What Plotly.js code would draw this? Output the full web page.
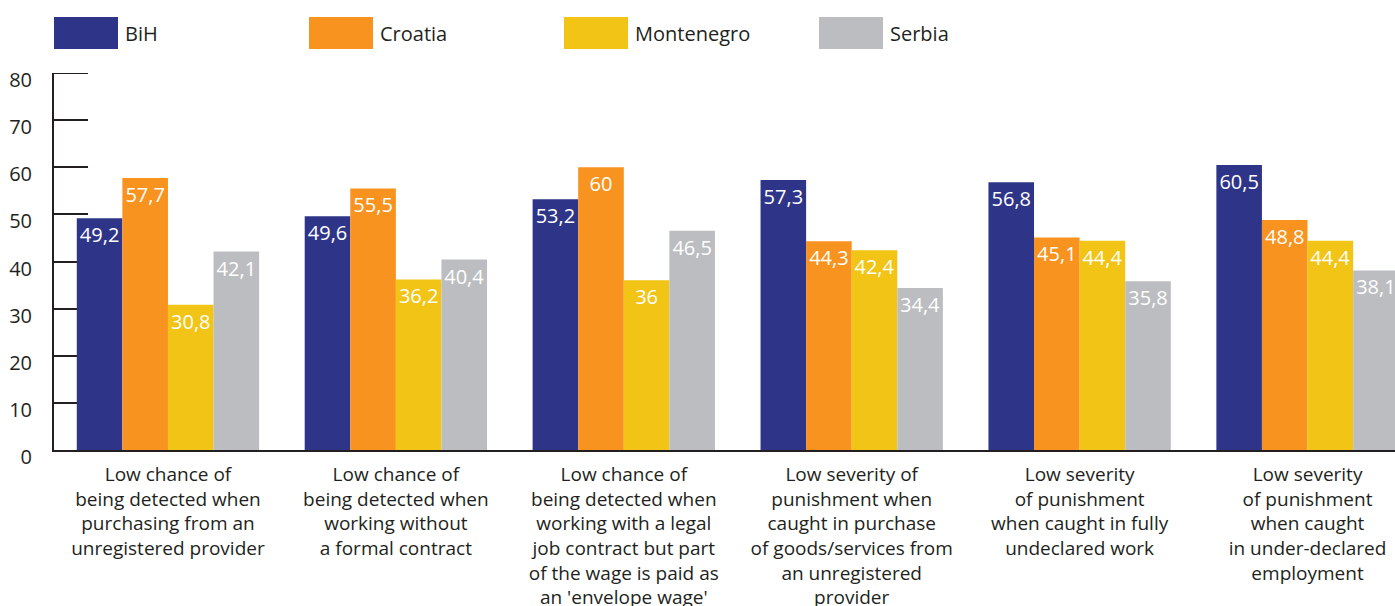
<!DOCTYPE html>
<html>
<head>
<meta charset="utf-8">
<script src="https://cdn.plot.ly/plotly-3.0.1.min.js"></script>
<style>html,body{margin:0;padding:0;overflow:hidden;background:#fff}#chart{width:1395px;height:606px}</style>
</head>
<body>
<div id="chart"></div>
<script>
const categories = [
  "Low chance of<br>being detected when<br>purchasing from an<br>unregistered provider",
  "Low chance of<br>being detected when<br>working without<br>a formal contract",
  "Low chance of<br>being detected when<br>working with a legal<br>job contract but part<br>of the wage is paid as<br>an 'envelope wage'",
  "Low severity of<br>punishment when<br>caught in purchase<br>of goods/services from<br>an unregistered<br>provider",
  "Low severity<br>of punishment<br>when caught in fully<br>undeclared work",
  "Low severity<br>of punishment<br>when caught<br>in under-declared<br>employment"
];
const seriesNames = ["BiH", "Croatia", "Montenegro", "Serbia"];
const bih = [49.2, 49.6, 53.2, 57.3, 56.8, 60.5];
const croatia = [57.7, 55.5, 60, 44.3, 45.1, 48.8];
const montenegro = [30.8, 36.2, 36, 42.4, 44.4, 44.4];
const serbia = [42.1, 40.4, 46.5, 34.4, 35.8, 38.1];
const colors = ["#2e3589", "#f7931e", "#f1c416", "#bcbdc0"];
const yTicks = [0, 10, 20, 30, 40, 50, 60, 70, 80];

const seriesValues = [bih, croatia, montenegro, serbia];
const xIdx = categories.map((c, i) => i);
const FONT = "'Open Sans', sans-serif";
const TXT = "#231f20";

const traces = seriesValues.map((vals, s) => ({
  type: "bar",
  name: seriesNames[s],
  x: xIdx,
  y: vals,
  marker: {color: colors[s]},
  text: vals.map(v => String(v).replace(".", ",")),
  textposition: "inside",
  insidetextanchor: "end",
  textangle: 0,
  constraintext: "none",
  textfont: {color: "#ffffff", size: 20, family: FONT},
  hoverinfo: "none",
  showlegend: false
}));

// legend built from series names/colors
const plotL = 54, plotR = 1395, plotT = 73, plotB = 450;
const px2x = p => (p - plotL) / (plotR - plotL);
const px2y = p => (plotB - p) / (plotB - plotT);
const shapes = [];
const annotations = [];
seriesNames.forEach((n, i) => {
  const x0 = 54 + 255 * i;
  shapes.push({type: "rect", xref: "paper", yref: "paper",
    x0: px2x(x0), x1: px2x(x0 + 64), y0: px2y(49), y1: px2y(17),
    fillcolor: colors[i], line: {width: 0}, layer: "above"});
  annotations.push({xref: "paper", yref: "paper", x: px2x(x0 + 69), y: px2y(33),
    xanchor: "left", yanchor: "middle", showarrow: false, text: n,
    font: {family: FONT, size: 20, color: TXT}});
});
// top tick mark (plotly omits the inside tick at the axis end)
const topTick = yTicks[yTicks.length - 1];
shapes.push({type: "line", xref: "paper", yref: "y",
  x0: 0, x1: px2x(plotL + 34), y0: topTick, y1: topTick,
  line: {color: TXT, width: 2}, layer: "below"});

const layout = {
  width: 1395, height: 606,
  margin: {l: plotL, r: 0, t: plotT, b: 606 - plotB, pad: 0},
  paper_bgcolor: "#ffffff", plot_bgcolor: "#ffffff",
  barmode: "group", bargap: 0.2, bargroupgap: 0,
  font: {family: FONT, color: TXT, size: 19},
  showlegend: false,
  xaxis: {
    range: [-0.5, 5.5 - (1421.5 - 1395) / 228],
    tickmode: "array", tickvals: xIdx, ticktext: categories,
    ticks: "", showgrid: false, zeroline: false,
    showline: true, linecolor: TXT, linewidth: 2,
    tickfont: {family: FONT, size: 19, color: TXT},
    ticklabelstandoff: 6,
    layer: "below traces", fixedrange: true
  },
  yaxis: {
    range: [0, 80], tickmode: "array", tickvals: yTicks,
    ticks: "inside", ticklen: 34, tickwidth: 2, tickcolor: TXT,
    showline: true, linecolor: TXT, linewidth: 2,
    showgrid: false, zeroline: false,
    tickfont: {family: FONT, size: 20, color: TXT},
    ticklabelstandoff: 16,
    ticklabelshift: 7,
    layer: "below traces", fixedrange: true
  },
  shapes: shapes,
  annotations: annotations
};

Plotly.newPlot("chart", traces, layout, {displayModeBar: false, staticPlot: true});
</script>
</body>
</html>
